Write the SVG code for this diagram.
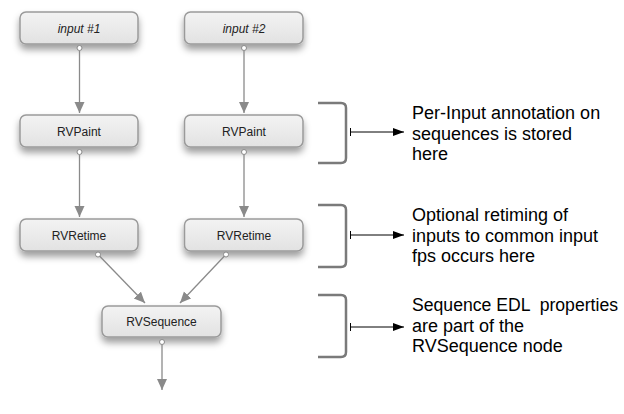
<svg xmlns="http://www.w3.org/2000/svg" width="624" height="414" viewBox="0 0 624 414">
<style>
.box{fill:url(#g);stroke:#9a9a9a;stroke-width:1.5;filter:url(#sh)}
.lbl{font-family:"Liberation Sans",Arial,sans-serif;font-size:12px;fill:#222;text-anchor:middle}
.it{font-style:italic}
.con{stroke:#8a8a8a;stroke-width:1.3;fill:none}
.dot{fill:#fff;stroke:#8a8a8a;stroke-width:1}
.br{fill:none;stroke:#7a7a7a;stroke-width:2.5}
.ann{stroke:#000;stroke-width:1;fill:none}
.note{font-family:"Liberation Sans",Arial,sans-serif;font-size:18px;fill:#000;white-space:pre}
</style>
<defs>
<linearGradient id="g" x1="0" y1="0" x2="0" y2="1"><stop offset="0" stop-color="#f3f3f3"/><stop offset="1" stop-color="#e2e2e2"/></linearGradient>
<filter id="sh" x="-20%" y="-30%" width="140%" height="190%"><feDropShadow dx="0" dy="5" stdDeviation="3.5" flood-color="#000" flood-opacity="0.38"/></filter>
<marker id="ga" markerWidth="12" markerHeight="12" refX="11" refY="5" orient="auto" markerUnits="userSpaceOnUse"><path d="M0,0 L11,5 L0,10 Z" fill="#8a8a8a"/></marker>
<marker id="ba" markerWidth="12" markerHeight="10" refX="11" refY="4" orient="auto" markerUnits="userSpaceOnUse"><path d="M0,0 L11,4 L0,8 Z" fill="#000"/></marker>
</defs>
<g id="input1"><rect class="box" x="20" y="12" width="118" height="32" rx="6"/><text class="lbl it" x="79" y="32.5">input #1</text></g>
<g id="input2"><rect class="box" x="184.5" y="12" width="118.5" height="32" rx="6"/><text class="lbl it" x="244" y="32.5">input #2</text></g>
<g id="paint1"><rect class="box" x="20" y="115" width="118" height="32" rx="6"/><text class="lbl" x="79" y="135.5">RVPaint</text></g>
<g id="paint2"><rect class="box" x="184.5" y="115" width="118.5" height="32" rx="6"/><text class="lbl" x="244" y="135.5">RVPaint</text></g>
<g id="retime1"><rect class="box" x="20" y="219" width="118" height="32" rx="6"/><text class="lbl" x="79" y="239.5">RVRetime</text></g>
<g id="retime2"><rect class="box" x="184.5" y="219" width="118.5" height="32" rx="6"/><text class="lbl" x="244" y="239.5">RVRetime</text></g>
<g id="sequence"><rect class="box" x="102" y="306" width="119" height="31" rx="6"/><text class="lbl" x="161.5" y="326">RVSequence</text></g>
<g id="connectors">
<line class="con" x1="79.5" y1="50.5" x2="79.5" y2="113" marker-end="url(#ga)"/>
<line class="con" x1="244" y1="50.5" x2="244" y2="113" marker-end="url(#ga)"/>
<line class="con" x1="79.5" y1="154.5" x2="79.5" y2="217" marker-end="url(#ga)"/>
<line class="con" x1="244" y1="154.5" x2="244" y2="217" marker-end="url(#ga)"/>
<line class="con" x1="99.5" y1="256" x2="145" y2="303" marker-end="url(#ga)"/>
<line class="con" x1="224.5" y1="256" x2="180" y2="303" marker-end="url(#ga)"/>
<line class="con" x1="162" y1="344.5" x2="162" y2="390" marker-end="url(#ga)"/>
<circle class="dot" cx="79.5" cy="48" r="2.5"/>
<circle class="dot" cx="244" cy="48" r="2.5"/>
<circle class="dot" cx="79.5" cy="152" r="2.5"/>
<circle class="dot" cx="244" cy="152" r="2.5"/>
<circle class="dot" cx="98" cy="254.5" r="2.5"/>
<circle class="dot" cx="226" cy="254.5" r="2.5"/>
<circle class="dot" cx="162" cy="342" r="2.5"/>
</g>
<g id="annotation1">
<path class="br" d="M318,103 H341 Q346,103 346,108 V158 Q346,163 341,163 H318"/>
<line class="ann" x1="350.5" y1="128" x2="350.5" y2="136"/>
<line class="ann" x1="350.5" y1="132" x2="404" y2="132" marker-end="url(#ba)"/>
<text class="note" x="412" y="119">Per-Input annotation on</text>
<text class="note" x="412" y="140">sequences is stored</text>
<text class="note" x="412" y="160">here</text>
</g>
<g id="annotation2">
<path class="br" d="M318,205 H341 Q346,205 346,210 V262 Q346,267 341,267 H318"/>
<line class="ann" x1="350.5" y1="231" x2="350.5" y2="239"/>
<line class="ann" x1="350.5" y1="235" x2="404" y2="235" marker-end="url(#ba)"/>
<text class="note" x="412" y="221">Optional retiming of</text>
<text class="note" x="412" y="242">inputs to common input</text>
<text class="note" x="412" y="262">fps occurs here</text>
</g>
<g id="annotation3">
<path class="br" d="M318,295 H341 Q346,295 346,300 V352 Q346,357 341,357 H318"/>
<line class="ann" x1="350.5" y1="323" x2="350.5" y2="331"/>
<line class="ann" x1="350.5" y1="327" x2="404" y2="327" marker-end="url(#ba)"/>
<text class="note" x="412" y="311" xml:space="preserve" textLength="206" lengthAdjust="spacingAndGlyphs">Sequence EDL  properties</text>
<text class="note" x="412" y="332">are part of the</text>
<text class="note" x="412" y="352">RVSequence node</text>
</g>
</svg>
